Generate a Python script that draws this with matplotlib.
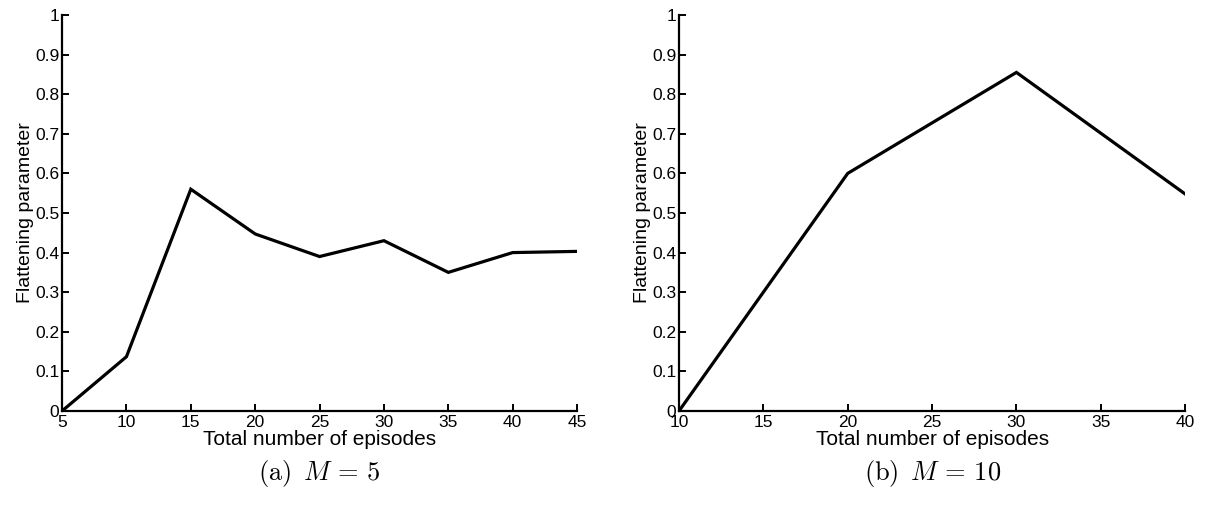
import numpy as np
import matplotlib
matplotlib.use('Agg')
import matplotlib.pyplot as plt

plt.rcParams['font.family'] = ['Liberation Sans', 'DejaVu Sans']
plt.rcParams['mathtext.fontset'] = 'cm'

# data
episodes_a = [5, 10, 15, 20, 25, 30, 35, 40, 45]
flatten_a = [0.0, 0.137, 0.56, 0.447, 0.39, 0.43, 0.35, 0.40, 0.403]

episodes_b = [10, 20, 30, 40]
flatten_b = [0.0, 0.60, 0.855, 0.548]

yticks = [0, 0.1, 0.2, 0.3, 0.4, 0.5, 0.6, 0.7, 0.8, 0.9, 1]
ytick_labels = ['0', '0.1', '0.2', '0.3', '0.4', '0.5', '0.6', '0.7', '0.8', '0.9', '1']


def style_axis(ax, X, Y, xticks, caption):
    ax.plot(X, Y, '-k', linewidth=2.3, solid_joinstyle='miter')
    ax.set_xlim(xticks[0], xticks[-1])
    ax.set_ylim(0, 1)
    ax.set_xticks(xticks)
    ax.set_yticks(yticks)
    ax.set_yticklabels(ytick_labels)
    ax.spines['top'].set_visible(False)
    ax.spines['right'].set_visible(False)
    ax.spines['left'].set_linewidth(1.6)
    ax.spines['bottom'].set_linewidth(1.6)
    ax.tick_params(direction='in', length=5, width=1.4, labelsize=12.5)
    ax.tick_params(axis='x', pad=3)
    ax.tick_params(axis='y', pad=2)
    ax.set_xlabel('Total number of episodes', fontsize=15, labelpad=0)
    ax.set_ylabel('Flattening parameter', fontsize=14, labelpad=1)
    ax.text(0.5, -0.12, caption, transform=ax.transAxes, ha='center', va='top', fontsize=19)


fig = plt.figure(figsize=(12.05, 5.08), dpi=100)
ax1 = fig.add_axes([0.0515, 0.191, 0.4274, 0.7795])
ax2 = fig.add_axes([0.5635, 0.191, 0.42, 0.7795])

style_axis(ax1, episodes_a, flatten_a, [5, 10, 15, 20, 25, 30, 35, 40, 45], r'$\mathrm{(a)}\ \, M \,=\, 5$')
style_axis(ax2, episodes_b, flatten_b, [10, 15, 20, 25, 30, 35, 40], r'$\mathrm{(b)}\ \, M \,=\, 10$')

plt.savefig('out.png', dpi=100)
